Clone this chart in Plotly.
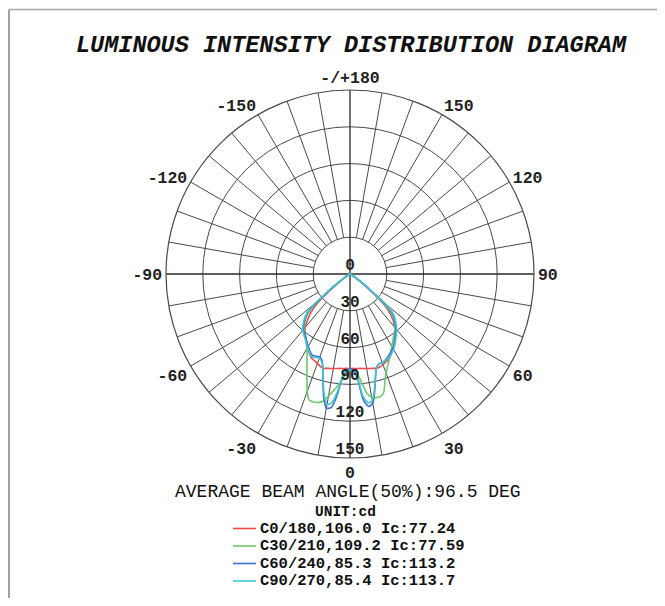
import plotly.graph_objects as go

# ---------------- data ----------------
gamma = [0, 2, 4, 6, 8, 10, 12, 14, 16, 18, 20, 25, 30, 35, 40, 45, 48, 52, 56, 60, 90]

c0_right = [77, 77, 77.2, 77.4, 77.8, 78.2, 78.7, 79.3, 80, 79.5, 78.5, 76, 70, 64, 57, 47, 38, 16, 5, 2, 0]
c0_left = [77, 77, 77.2, 77.4, 77.8, 78.2, 78.7, 79.3, 80, 79, 77.5, 75, 69, 63, 57, 46, 36, 15, 5, 2, 0]

c30_right = [78, 79, 82, 88, 98, 102, 103, 103, 100, 92, 86, 76, 68, 62, 57, 50, 42, 18, 5, 2, 0]
c30_left = [78, 81, 86, 91, 96, 101, 106, 108, 108.5, 108, 102, 83, 70, 63, 58, 51, 43, 18, 5, 2, 0]

c60_right = [77, 78.5, 85, 103, 109, 107, 97, 86, 79, 77, 77, 74, 70, 64, 58, 51, 45, 20, 6, 2, 0]
c60_left = [77, 79, 83, 99, 110, 111, 103, 91, 80, 74, 72, 73, 68, 63, 59, 52, 46, 20, 6, 2, 0]

c90_right = [78, 80, 84, 100, 106, 105, 96, 86, 79, 77, 77, 75, 71, 65, 59, 52, 46, 20, 6, 2, 0]
c90_left = [78, 80, 84, 96, 106, 108, 101, 90, 80, 75, 73, 74, 69, 64, 60, 53, 47, 22, 6, 2, 0]

series_names = ["C0/180,106.0 Ic:77.24", "C30/210,109.2 Ic:77.59",
                "C60/240,85.3 Ic:113.2", "C90/270,85.4 Ic:113.7"]
series_colors = ["#f04848", "#6cc86c", "#3d6fd6", "#3cc6d6"]

angle_tickvals = [0, 30, 60, 90, 120, 150, 180, 210, 240, 270, 300, 330]
angle_ticktext = ["0", "30", "60", "90", "120", "150", "-/+180", "-150", "-120", "-90", "-60", "-30"]
radial_ticks = [30, 60, 90, 120, 150]

title_text = "LUMINOUS INTENSITY DISTRIBUTION DIAGRAM"
beam_text = "AVERAGE BEAM ANGLE(50%):96.5 DEG"
unit_text = "UNIT:cd"

# ---------------- layout geometry ----------------
# the page body has an 8px margin, so the figure is drawn 8px in from the window corner
OFF = 8
WF, HF = 649, 590
cx, cy, R = 350, 274, 184
FONT = "Liberation Mono"
GRID = "#4a4a4a"


def px(x):
    return (x - OFF) / WF


def py(y):
    return 1 - (y - OFF) / HF


fig = go.Figure()

# spokes every 10 degrees from the inner circle to the outer circle
sp_t, sp_r = [], []
for a in range(0, 360, 10):
    if a % 90 == 0:
        continue
    sp_t += [a, a, None]
    sp_r += [30, 150, None]
fig.add_trace(go.Scatterpolar(r=sp_r, theta=sp_t, mode="lines",
                              line=dict(color=GRID, width=1), hoverinfo="skip",
                              showlegend=False))
# main axes through the centre
fig.add_trace(go.Scatterpolar(r=[150, 0, 150, None, 150, 0, 150],
                              theta=[0, 0, 180, None, 90, 90, 270], mode="lines",
                              line=dict(color="#2a2a2a", width=1.3), hoverinfo="skip",
                              showlegend=False))

curves = [(c0_left, c0_right), (c30_left, c30_right), (c60_left, c60_right), (c90_left, c90_right)]
for (left, right), name, col in zip(curves, series_names, series_colors):
    theta = [-g for g in reversed(gamma)] + gamma[1:]
    r = list(reversed(left)) + right[1:]
    fig.add_trace(go.Scatterpolar(r=r, theta=theta, mode="lines", name=name,
                                  line=dict(color=col, width=1.6, shape="spline", smoothing=0.6),
                                  showlegend=False))

# radial value labels along the 0 direction
fig.add_trace(go.Scatterpolar(r=[0] + radial_ticks, theta=[0] * (len(radial_ticks) + 1),
                              mode="text", text=["0"] + [str(v) for v in radial_ticks],
                              textposition="top center",
                              textfont=dict(family=FONT, size=16, color="#222", weight="bold"),
                              hoverinfo="skip", showlegend=False))

fig.update_layout(
    width=WF, height=HF,
    margin=dict(l=0, r=0, t=0, b=0),
    paper_bgcolor="white", plot_bgcolor="white",
    showlegend=False,
    polar=dict(
        domain=dict(x=[px(cx - R), px(cx + R)], y=[py(cy + R), py(cy - R)]),
        bgcolor="white",
        angularaxis=dict(rotation=270, direction="counterclockwise",
                         tickmode="array", tickvals=angle_tickvals, ticktext=angle_ticktext,
                         showgrid=False, showline=True, linecolor=GRID, linewidth=1.2,
                         ticks="", tickfont=dict(family=FONT, size=16.5, color="#222", weight="bold")),
        radialaxis=dict(range=[0, 150], tickmode="array", tickvals=[30, 60, 90, 120],
                        showticklabels=False, showline=False, ticks="",
                        gridcolor=GRID, gridwidth=1),
    ),
)

ann = []
ann.append(dict(x=px(351), y=py(45), xref="paper", yref="paper", text=title_text,
                showarrow=False, xanchor="center", yanchor="middle",
                font=dict(family=FONT, size=23.5, color="#111", weight="bold", style="italic")))
ann.append(dict(x=px(348), y=py(492), xref="paper", yref="paper", text=beam_text,
                showarrow=False, xanchor="center", yanchor="middle",
                font=dict(family=FONT, size=18, color="#111")))
ann.append(dict(x=px(345), y=py(512), xref="paper", yref="paper", text=unit_text,
                showarrow=False, xanchor="center", yanchor="middle",
                font=dict(family=FONT, size=14.5, color="#111", weight="bold")))
shapes = []
row_y0, row_dy = 528.5, 17.5
for i, (name, col) in enumerate(zip(series_names, series_colors)):
    yy = row_y0 + i * row_dy
    ann.append(dict(x=px(258), y=py(yy), xref="paper", yref="paper", text=name,
                    showarrow=False, xanchor="left", yanchor="middle",
                    font=dict(family=FONT, size=15.5, color="#111", weight="bold")))
    shapes.append(dict(type="line", xref="paper", yref="paper",
                       x0=px(233), x1=px(256), y0=py(yy), y1=py(yy),
                       line=dict(color=col, width=1.6)))

# page frame (top and left edges)
shapes.append(dict(type="line", xref="paper", yref="paper", x0=px(9), x1=px(9), y0=py(9.5), y1=0,
                   line=dict(color="#a0a0a0", width=2)))
shapes.append(dict(type="line", xref="paper", yref="paper", x0=px(9), x1=1, y0=py(9.5), y1=py(9.5),
                   line=dict(color="#a8a8a8", width=1.5)))

fig.update_layout(annotations=ann, shapes=shapes)
fig.write_html("out.html")
